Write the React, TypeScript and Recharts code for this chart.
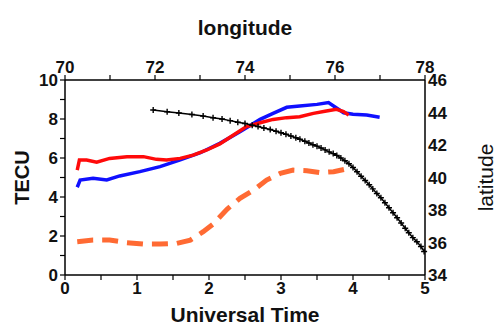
import React from 'react';
import { ComposedChart, Line, XAxis, YAxis, Label } from 'recharts';

// TEC (TECU) vs Universal Time
const blueTec = [
  { t: 0.17, v: 4.5 }, { t: 0.21, v: 4.87 }, { t: 0.39, v: 4.96 }, { t: 0.58, v: 4.87 },
  { t: 0.76, v: 5.08 }, { t: 1.04, v: 5.3 }, { t: 1.32, v: 5.56 }, { t: 1.6, v: 5.9 },
  { t: 1.88, v: 6.27 }, { t: 2.15, v: 6.75 }, { t: 2.43, v: 7.35 }, { t: 2.71, v: 7.98 },
  { t: 2.89, v: 8.29 }, { t: 3.08, v: 8.6 }, { t: 3.26, v: 8.67 }, { t: 3.5, v: 8.75 },
  { t: 3.66, v: 8.84 }, { t: 3.73, v: 8.67 }, { t: 3.87, v: 8.32 }, { t: 4.0, v: 8.24 },
  { t: 4.19, v: 8.2 }, { t: 4.37, v: 8.09 },
];

const redTec = [
  { t: 0.17, v: 5.38 }, { t: 0.2, v: 5.9 }, { t: 0.3, v: 5.9 }, { t: 0.44, v: 5.78 },
  { t: 0.62, v: 5.98 }, { t: 0.86, v: 6.07 }, { t: 1.09, v: 6.07 }, { t: 1.27, v: 5.93 },
  { t: 1.41, v: 5.9 }, { t: 1.6, v: 5.98 }, { t: 1.78, v: 6.15 }, { t: 1.97, v: 6.41 },
  { t: 2.15, v: 6.72 }, { t: 2.34, v: 7.18 }, { t: 2.52, v: 7.61 }, { t: 2.71, v: 7.81 },
  { t: 2.89, v: 7.98 }, { t: 3.08, v: 8.07 }, { t: 3.26, v: 8.12 }, { t: 3.45, v: 8.29 },
  { t: 3.63, v: 8.41 }, { t: 3.77, v: 8.5 }, { t: 3.87, v: 8.38 }, { t: 3.94, v: 8.2 },
];

const orangeTec = [
  { t: 0.17, v: 1.71 }, { t: 0.39, v: 1.79 }, { t: 0.62, v: 1.79 }, { t: 0.86, v: 1.66 },
  { t: 1.09, v: 1.59 }, { t: 1.32, v: 1.59 }, { t: 1.55, v: 1.62 }, { t: 1.74, v: 1.79 },
  { t: 1.92, v: 2.22 }, { t: 2.06, v: 2.62 }, { t: 2.25, v: 3.37 }, { t: 2.43, v: 3.93 },
  { t: 2.62, v: 4.36 }, { t: 2.8, v: 4.87 }, { t: 2.99, v: 5.21 }, { t: 3.17, v: 5.38 },
  { t: 3.36, v: 5.35 }, { t: 3.54, v: 5.25 }, { t: 3.73, v: 5.3 }, { t: 3.91, v: 5.44 },
  { t: 3.99, v: 5.52 },
];

// track: latitude vs longitude
const trackLon = [
  71.96, 72.27, 72.53, 72.82, 73.07, 73.29, 73.49, 73.67, 73.84, 74.0,
  74.16, 74.29, 74.42, 74.56, 74.69, 74.8, 74.91, 75.02, 75.13, 75.22,
  75.33, 75.42, 75.51, 75.6, 75.69, 75.78, 75.87, 75.96, 76.04, 76.13,
  76.22, 76.31, 76.4, 76.49, 76.58, 76.67, 76.76, 76.84, 76.93, 77.02,
  77.11, 77.2, 77.29, 77.38, 77.47, 77.56, 77.64, 77.73, 77.82, 77.91, 77.98,
];
const trackLat = [
  44.15, 44.05, 43.97, 43.88, 43.78, 43.68, 43.6, 43.5, 43.4, 43.32,
  43.22, 43.14, 43.05, 42.95, 42.85, 42.75, 42.66, 42.55, 42.45, 42.35,
  42.23, 42.12, 42.02, 41.93, 41.82, 41.7, 41.58, 41.47, 41.36, 41.2,
  41.03, 40.85, 40.62, 40.35, 40.08, 39.82, 39.55, 39.3, 39.02, 38.75,
  38.45, 38.14, 37.83, 37.52, 37.2, 36.88, 36.6, 36.3, 36.05, 35.75, 35.45,
];
const track = trackLon.map((lon, i) => ({ lon, lat: trackLat[i] }));

const utTicks = [0, 0.5, 1, 1.5, 2, 2.5, 3, 3.5, 4, 4.5, 5];
const tecTicks = [0, 1, 2, 3, 4, 5, 6, 7, 8, 9, 10];
const lonTicks = [70, 71, 72, 73, 74, 75, 76, 77, 78];
const latTicks = [34, 36, 38, 40, 42, 44, 46];

const FONT = '"Liberation Sans", Arial, sans-serif';
const axisLine = { stroke: '#000', strokeWidth: 1.5 };
const tickLine = { stroke: '#000', strokeWidth: 1.2 };
const tickStyle = { fontFamily: FONT, fontSize: 17, fontWeight: 'bold', fill: '#111' };

const intLabel = (v: number) => (Number.isInteger(v) ? String(v) : '');
const evenLabel = (v: number) => (v % 2 === 0 ? String(v) : '');

const title = (text: string, side: string, weight: string, size: number) => (props: any) => {
  const vb = props.viewBox || {};
  let x = 0;
  let y = 0;
  let rot = 0;
  if (side === 'left') { x = vb.x + 22; y = vb.y + vb.height / 2; rot = -90; }
  if (side === 'right') { x = vb.x + 60; y = vb.y + vb.height / 2; rot = -90; }
  if (side === 'top') { x = vb.x + vb.width / 2; y = vb.y + 27; }
  if (side === 'bottom') { x = vb.x + vb.width / 2; y = vb.y + 39; }
  return (
    <text
      x={x}
      y={y}
      textAnchor="middle"
      dominantBaseline="central"
      transform={rot ? `rotate(${rot}, ${x}, ${y})` : undefined}
      style={{ fontFamily: FONT, fontSize: size, fontWeight: weight as any, fill: '#111' }}
    >
      {text}
    </text>
  );
};

const PlusDot = (props: any) => {
  const { cx, cy } = props;
  if (cx == null || cy == null) return null;
  return (
    <path
      d={`M${cx - 3},${cy}H${cx + 3}M${cx},${cy - 3}V${cy + 3}`}
      stroke="#000"
      strokeWidth={1.4}
      fill="none"
    />
  );
};

export default function App() {
  return (
    <div style={{ position: 'absolute', left: 0, top: 0, background: '#fff' }}>
      <ComposedChart width={497} height={327} margin={{ top: 0, right: 0, bottom: 0, left: 0 }}>
        <XAxis
          xAxisId="ut"
          dataKey="t"
          type="number"
          domain={[0, 5]}
          ticks={utTicks}
          interval={0}
          tickFormatter={intLabel}
          height={52}
          tickSize={5}
          axisLine={axisLine}
          tickLine={tickLine}
          tick={tickStyle}
        >
          <Label content={title('Universal Time', 'bottom', 'bold', 21)} />
        </XAxis>
        <XAxis
          xAxisId="lon"
          dataKey="lon"
          type="number"
          orientation="top"
          domain={[70, 78]}
          ticks={lonTicks}
          interval={0}
          tickFormatter={evenLabel}
          height={80}
          tickSize={5}
          axisLine={axisLine}
          tickLine={tickLine}
          tick={tickStyle}
        >
          <Label content={title('longitude', 'top', 'bold', 21)} />
        </XAxis>
        <YAxis
          yAxisId="tec"
          type="number"
          domain={[0, 10]}
          ticks={tecTicks}
          interval={0}
          tickFormatter={evenLabel}
          width={65}
          tickSize={5}
          axisLine={axisLine}
          tickLine={tickLine}
          tick={tickStyle}
        >
          <Label content={title('TECU', 'left', 'bold', 20)} />
        </YAxis>
        <YAxis
          yAxisId="lat"
          type="number"
          orientation="right"
          domain={[34, 46]}
          ticks={latTicks}
          interval={0}
          width={72}
          tickSize={1}
          axisLine={axisLine}
          tickLine={false}
          tick={tickStyle}
        >
          <Label content={title('latitude', 'right', 'normal', 21)} />
        </YAxis>

        <Line
          data={orangeTec}
          xAxisId="ut"
          yAxisId="tec"
          dataKey="v"
          type="linear"
          stroke="#ff6a33"
          strokeWidth={5}
          strokeDasharray="16 9"
          dot={false}
          isAnimationActive={false}
        />
        <Line
          data={blueTec}
          xAxisId="ut"
          yAxisId="tec"
          dataKey="v"
          type="linear"
          stroke="#1010ff"
          strokeWidth={3.5}
          dot={false}
          isAnimationActive={false}
        />
        <Line
          data={redTec}
          xAxisId="ut"
          yAxisId="tec"
          dataKey="v"
          type="linear"
          stroke="#ff0a0a"
          strokeWidth={3.5}
          dot={false}
          isAnimationActive={false}
        />
        <Line
          data={track}
          xAxisId="lon"
          yAxisId="lat"
          dataKey="lat"
          type="linear"
          stroke="#000"
          strokeWidth={1.5}
          dot={<PlusDot />}
          isAnimationActive={false}
        />
      </ComposedChart>
    </div>
  );
}
